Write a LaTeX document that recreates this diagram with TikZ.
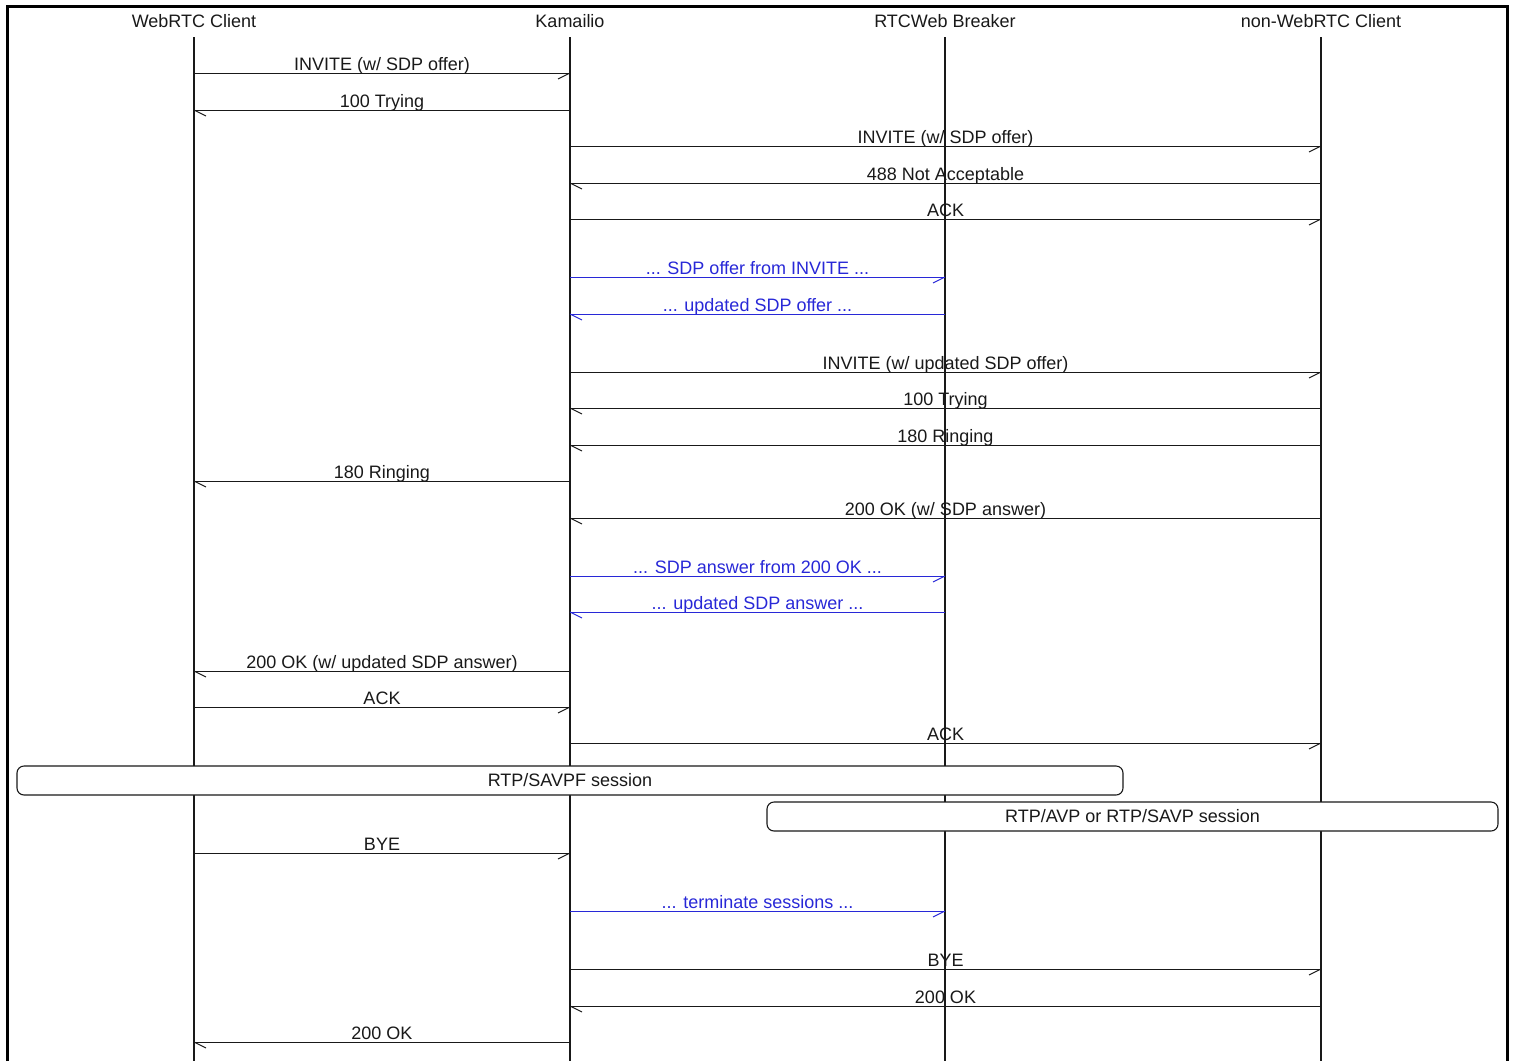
\documentclass[tikz,border=0pt]{standalone}
\usepackage{fontspec}
\setmainfont{Liberation Sans}
\usetikzlibrary{calc}
\definecolor{sdblue}{RGB}{40,40,215}
\definecolor{ink}{RGB}{25,25,25}
\tikzset{
  x=1pt, y=-1pt,
  lifeline/.style={line width=1.3pt, draw=ink},
  msg/.style={line width=1.0pt},
  lbl/.style={anchor=base, inner sep=0pt, yshift=2.5pt, font=\fontsize{18}{21}\selectfont},
  hdr/.style={anchor=base, inner sep=0pt, text=ink, font=\fontsize{18}{21}\selectfont},
  session/.style={draw=ink, fill=white, rounded corners=7pt, line width=1.1pt, inner sep=0pt,
    text=ink, font=\fontsize{18}{21}\selectfont},
  frame/.style={line width=3pt},
}
% rightward message: [colour]{y}{from}{to}{label}
\newcommand\rmsg[5][ink]{%
  \coordinate (s#2) at (#3 |- 0,#2);
  \coordinate (e#2) at (#4 |- 0,#2);
  \draw[msg,#1] (s#2) -- node[lbl,text=#1]{#5} (e#2);
  \draw[msg,#1] (e#2) -- ++(-12,6);
}
% leftward message
\newcommand\lmsg[5][ink]{%
  \coordinate (s#2) at (#3 |- 0,#2);
  \coordinate (e#2) at (#4 |- 0,#2);
  \draw[msg,#1] (s#2) -- node[lbl,text=#1]{#5} (e#2);
  \draw[msg,#1] (e#2) -- ++(12,6);
}
\begin{document}
\begin{tikzpicture}
\useasboundingbox (0,0) rectangle (1516,1061);
% frame
\coordinate (fbl) at (7.5,1061);
\coordinate (ftr) at (1507.5,6.5);
\draw[frame] (fbl) |- (ftr) -- (ftr |- fbl);

% headers
\node[hdr] (hA) at (194,27) {WebRTC Client};
\node[hdr] (hB) at (570,27) {Kamailio};
\node[hdr] (hC) at (945,27) {RTCWeb Breaker};
\node[hdr] (hD) at (1321,27) {non-WebRTC Client};

% lifelines
\coordinate (A) at (194,37);
\coordinate (B) at (570,37);
\coordinate (C) at (945,37);
\coordinate (D) at (1321,37);
\foreach \l in {A,B,C,D}{
  \coordinate (\l end) at (\l |- 0,1061);
  \draw[lifeline] (\l) -- (\l end);
}

% messages
\rmsg{73}{A}{B}{INVITE (w/ SDP offer)}
\lmsg{110}{B}{A}{100 Trying}
\rmsg{146}{B}{D}{INVITE (w/ SDP offer)}
\lmsg{183}{D}{B}{488 Not Acceptable}
\rmsg{219}{B}{D}{ACK}
\rmsg[sdblue]{277}{B}{C}{... SDP offer from INVITE ...}
\lmsg[sdblue]{314}{C}{B}{... updated SDP offer ...}
\rmsg{372}{B}{D}{INVITE (w/ updated SDP offer)}
\lmsg{408}{D}{B}{100 Trying}
\lmsg{445}{D}{B}{180 Ringing}
\lmsg{481}{B}{A}{180 Ringing}
\lmsg{518}{D}{B}{200 OK (w/ SDP answer)}
\rmsg[sdblue]{576}{B}{C}{... SDP answer from 200 OK ...}
\lmsg[sdblue]{612}{C}{B}{... updated SDP answer ...}
\lmsg{671}{B}{A}{200 OK (w/ updated SDP answer)}
\rmsg{707}{A}{B}{ACK}
\rmsg{743}{B}{D}{ACK}

% sessions
\node[session, minimum width=1106pt, minimum height=29pt] (s1) at (570,780.5) {RTP/SAVPF session};
\node[session, minimum width=731pt, minimum height=29pt] (s2) at (1132.5,816.5) {RTP/AVP or RTP/SAVP session};

\rmsg{853}{A}{B}{BYE}
\rmsg[sdblue]{911}{B}{C}{... terminate sessions ...}
\rmsg{969}{B}{D}{BYE}
\lmsg{1006}{D}{B}{200 OK}
\lmsg{1042}{B}{A}{200 OK}
\end{tikzpicture}
\end{document}
